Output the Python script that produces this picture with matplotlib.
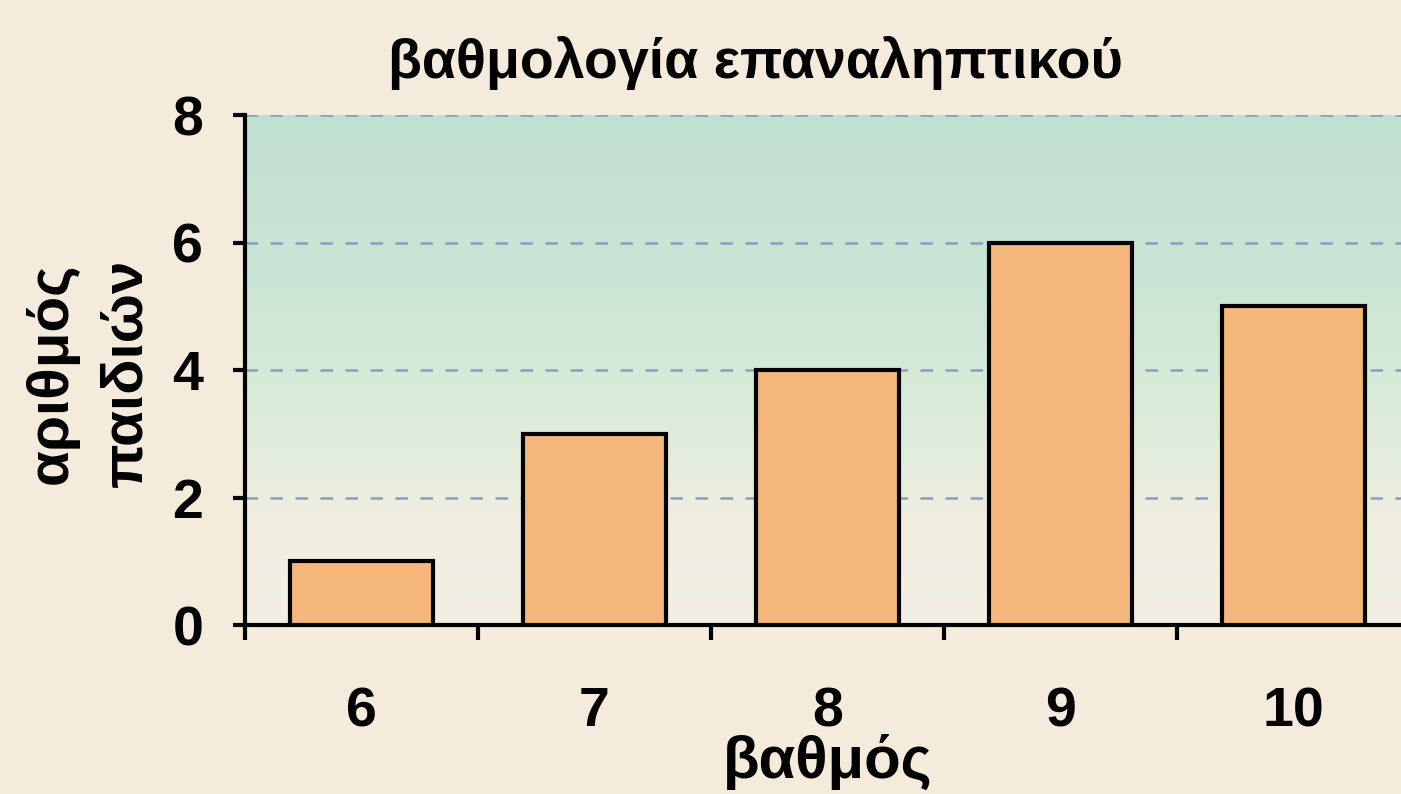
import numpy as np
import matplotlib
matplotlib.use("Agg")
import matplotlib.pyplot as plt
from matplotlib.colors import LinearSegmentedColormap

# data
grades = ["6", "7", "8", "9", "10"]
children = [1, 3, 4, 6, 5]
y_ticks = [0, 2, 4, 6, 8]

title = "βαθμολογία επαναληπτικού"
x_label = "βαθμός"
y_label = "αριθμός\nπαιδιών"

plt.rcParams['font.family'] = ['Liberation Sans', 'DejaVu Sans']
plt.rcParams['font.weight'] = 'bold'

fig = plt.figure(figsize=(14.01, 7.94), dpi=100, facecolor="#f4ebdc")
ax = fig.add_axes([245 / 1401, 169 / 794, 1165 / 1401, 510 / 794])

n = len(grades)
x = np.arange(n)

# vertical gradient for the plot area
grad_cmap = LinearSegmentedColormap.from_list(
    "bg", [(0.0, "#f3efe4"), (0.2, "#efeee1"), (0.45, "#d9ebd9"),
           (0.7, "#c9e5d5"), (1.0, "#c0e0d1")])
grad = np.linspace(0, 1, 256).reshape(-1, 1)
ax.imshow(grad, cmap=grad_cmap, origin="lower", aspect="auto",
          extent=(-0.5, n - 0.5, 0, 8), zorder=0)

for yv in y_ticks[1:]:
    ax.axhline(yv, color="#8a9cc0", lw=1.8, ls=(0, (5, 5)), zorder=1)

ax.bar(x, children, width=0.61, color="#f5b67c", edgecolor="black",
       linewidth=3, zorder=3)

ax.set_xlim(-0.5, n - 0.5)
ax.set_ylim(0, 8)

ax.spines["top"].set_visible(False)
ax.spines["right"].set_visible(False)
ax.spines["left"].set_linewidth(3)
ax.spines["bottom"].set_linewidth(3)

ax.set_yticks(y_ticks)
ax.set_yticklabels([str(v) for v in y_ticks])
ax.tick_params(axis="y", length=9, width=3, labelsize=40, pad=21)

# ticks sit on the category boundaries, labels in the middle
ax.set_xticks(np.arange(n + 1) - 0.5)
ax.set_xticklabels([])
ax.set_xticks(x, minor=True)
ax.set_xticklabels(grades, minor=True)
ax.tick_params(axis="x", which="major", length=11, width=3)
ax.tick_params(axis="x", which="minor", length=0, labelsize=40, pad=44)

ax.set_xlabel(x_label, fontsize=43, fontweight="bold")
ax.xaxis.set_label_coords(0.5, -(778 - 625) / 510)
ax.xaxis.label.set_va("baseline")

fig.text(89 / 1401, 1 - 373 / 794, y_label, rotation=90, ha="center",
         va="center", multialignment="center", fontsize=42,
         fontweight="bold", linespacing=1.5)

fig.text(755 / 1401, 1 - 78 / 794, title, ha="center", va="baseline",
         fontsize=40, fontweight="bold")

fig.savefig("out.png", dpi=100, facecolor=fig.get_facecolor())
